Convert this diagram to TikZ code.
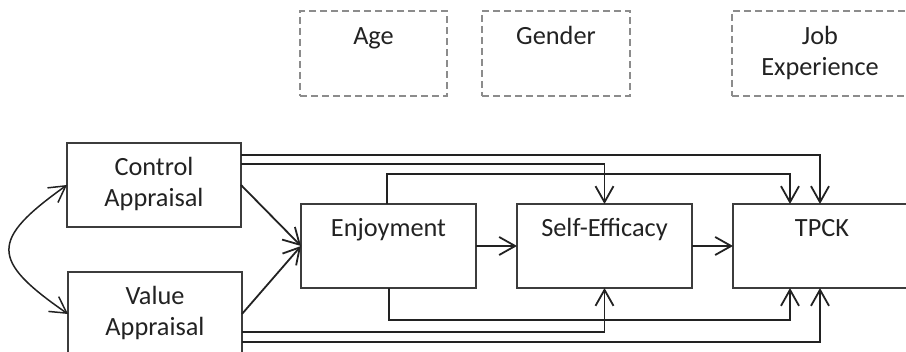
\documentclass[tikz,border=0pt]{standalone}
\usepackage{fontspec}
\setmainfont{Carlito}
\usetikzlibrary{arrows.meta,calc}
\definecolor{ln}{HTML}{222222}
\definecolor{bx}{HTML}{3C3C3C}
\definecolor{dg}{HTML}{8C8C8C}
\definecolor{tx}{HTML}{222222}
\begin{document}
\begin{tikzpicture}[x=1pt,y=-1pt,
  box/.style={draw=bx, line width=1.4pt, minimum height=84pt, inner sep=0pt, outer sep=0pt},
  dbox/.style={draw=dg, line width=1.1pt, dash pattern=on 7pt off 4pt, minimum height=85pt, inner sep=0pt, outer sep=0pt},
  lbl/.style={anchor=base, font=\fontsize{26.3}{31}\selectfont, text=tx, inner sep=0pt},
  barb/.tip={Straight Barb[length=16pt,width=18pt]},
  arr/.style={draw=ln, line width=1.8pt, -barb},
  ]
\useasboundingbox (0,0) rectangle (906,352);
\begin{scope}
\clip (0,0) rectangle (906,352);
% boxes
\node[box, minimum width=174pt] (ca) at (154,185) {};
\node[box, minimum width=174pt] (va) at (155,314) {};
\node[box, minimum width=175pt] (en) at (388.5,246) {};
\node[box, minimum width=175pt] (se) at (604.5,246) {};
\node[box, minimum width=178pt] (tp) at (822,246) {};
\node[dbox, minimum width=147pt] (age) at (373.5,53.5) {};
\node[dbox, minimum width=148pt] (gen) at (556,53.5) {};
\node[dbox, minimum width=176pt] (job) at (820,53.5) {};
% labels
\node[lbl] (ca1) at (154,176) {Control};
\node[lbl] (ca2) at (154,207) {Appraisal};
\node[lbl] (va1) at (155,305) {Value};
\node[lbl] (va2) at (155,336) {Appraisal};
\node[lbl] (enl) at (388.5,237) {Enjoyment};
\node[lbl] (sel) at (604.5,237) {Self-Efficacy};
\node[lbl] (tpl) at (822,237) {TPCK};
\node[lbl] (agel) at (373.5,45) {Age};
\node[lbl] (genl) at (556,45) {Gender};
\node[lbl] (job1) at (820,45) {Job};
\node[lbl] (job2) at (820,76) {Experience};
% connectors
\draw[arr] (ca.east |- 0,155) -| (tp.north -| 820,0);
\draw[arr] (ca.east |- 0,164) -| (se.north);
\draw[arr] (en.north -| 387,0) -- (387,174) -| (tp.north -| 790,0);
\draw[arr] (en.east) -- (se.west);
\draw[arr] (se.east) -- (tp.west);
\draw[arr] (en.south -| 389,0) -- (389,320) -| (tp.south -| 790,0);
\draw[arr] (va.east |- 0,332) -| (se.south);
\draw[arr] (va.east |- 0,342) -| (tp.south -| 820,0);
\draw[arr] (ca.east) -- (en.west);
\draw[arr] (va.east) -- (en.west);
\draw[arr, line width=1.5pt, barb-barb] (ca.west) .. controls (-10,240) and (-10,260) .. (va.west);
\end{scope}
\end{tikzpicture}
\end{document}
